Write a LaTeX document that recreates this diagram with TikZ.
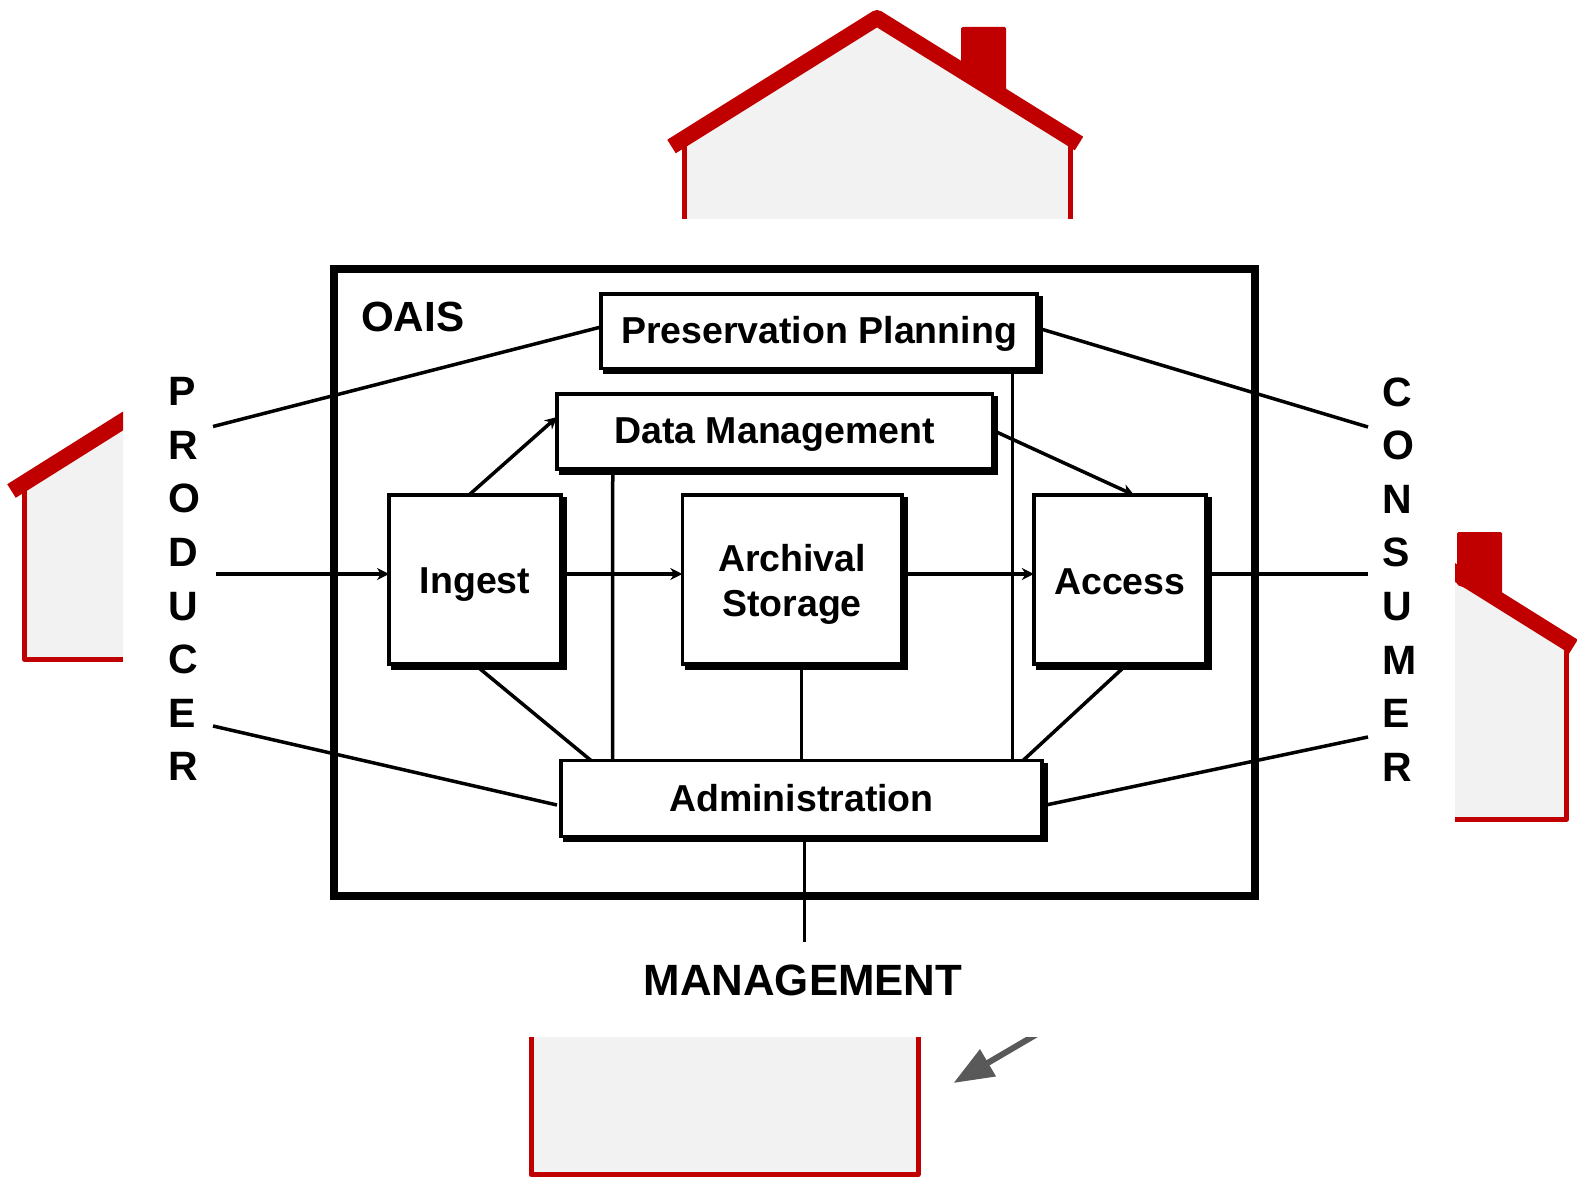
\documentclass[tikz,border=0pt]{standalone}
\usepackage{fontspec}
\setmainfont{Liberation Sans}
\usetikzlibrary{arrows.meta,shadows}
\definecolor{houseRed}{HTML}{C00000}
\definecolor{houseFill}{HTML}{F2F2F2}
\definecolor{arrowGrey}{HTML}{595959}
\tikzset{
  procbox/.style={draw=black,fill=white,line width=3.5pt,inner sep=0pt,outer sep=0pt,align=center,
    font=\fontsize{37.5}{44.5}\selectfont\bfseries,
    copy shadow={shadow xshift=4pt,shadow yshift=-4pt,draw=black,fill=black}},
  conn/.style={draw=black,line width=3.5pt},
  flow/.style={conn,-{Stealth[length=12pt,width=12pt]}},
  roof/.style={draw=houseRed,line width=16pt,line join=round},
  wall/.style={draw=houseRed,line width=5pt},
  chimney/.style={fill=houseRed,rounded corners=1.5pt},
  housebody/.style={fill=houseFill},
  letters/.style={inner sep=0pt,outer sep=0pt,align=left,font=\fontsize{41}{53.6}\selectfont\bfseries},
  oaistext/.style={inner sep=0pt,outer sep=0pt,font=\fontsize{42.2}{50}\selectfont\bfseries},
  mgmttext/.style={inner sep=0pt,outer sep=0pt,font=\fontsize{43.8}{50}\selectfont\bfseries}
}
\begin{document}
\begin{tikzpicture}[x=1pt,y=-1pt]
\useasboundingbox (0,0) rectangle (1577,1182);
% top house
\fill[housebody] (684.5,143) -- (877,27) -- (1070.5,143) -- (1070.5,219) -- (684.5,219) -- cycle;
\draw[wall] (684.5,145) -- (684.5,219);
\draw[wall] (1070.5,145) -- (1070.5,219);
\fill[chimney] (961,70) -- (961,27) -- (1006,27) -- (1006,100) -- cycle;
\draw[roof] (671.5,146.5) -- (877,18) -- (1079,143.5);
% left house
\fill[housebody] (24.5,490) -- (123,430) -- (123,659.5) -- (24.5,659.5) -- cycle;
\draw[wall,line join=round] (24.5,490) -- (24.5,659.5) -- (123,659.5);
\begin{scope}
\clip (0,380) rectangle (123,520);
\draw[roof] (11.5,491) -- (140,410.3);
\end{scope}
% right house
\fill[housebody] (1455,582) -- (1566.5,650) -- (1566.5,819.5) -- (1455,819.5) -- cycle;
\draw[wall,line join=round] (1566.5,650) -- (1566.5,819.5) -- (1455,819.5);
\fill[chimney] (1457,585) -- (1457,532) -- (1502,532) -- (1502,600) -- cycle;
\begin{scope}
\clip (1455,540) rectangle (1577,670);
\draw[roof] (1435,560) -- (1573.5,646.5);
\end{scope}
% bottom house
\fill[housebody] (531,1037) rectangle (918,1174.5);
\draw[wall,line join=round] (531,1037) -- (531,1174.5) -- (918,1174.5) -- (918,1037);
% grey arrow
\coordinate (arrowTail) at (1045.6,1029);
\coordinate (arrowTip) at (953.5,1083);
\begin{scope}
\clip (930,1037) rectangle (1060,1100);
\draw[arrowGrey,line width=6pt,-{Triangle[length=40pt,width=30pt]}] (arrowTail) -- (arrowTip);
\end{scope}
% OAIS frame
\node[draw=black,line width=8pt,minimum width=921pt,minimum height=627pt,inner sep=0pt,outer sep=0pt] (oais) at (794.5,582.5) {};
\node[oaistext,anchor=base west] (oaislabel) at (361,331) {OAIS};
% process boxes
\node[procbox,minimum width=436pt,minimum height=74.5pt,text height=33pt] (pp) at (819,331.25) {Preservation Planning};
\node[procbox,minimum width=435.5pt,minimum height=75pt,text height=31pt] (dm) at (774.75,431.5) {Data Management};
\node[procbox,minimum width=172pt,minimum height=169pt,text height=36pt] (ingest) at (475,579.5) {Ingest};
\node[procbox,minimum width=219.5pt,minimum height=169pt,text height=81pt] (archive) at (792,579.5) {Archival\\Storage};
\node[procbox,minimum width=172pt,minimum height=169pt,text height=30pt] (access) at (1119.75,579.5) {Access};
\node[procbox,minimum width=481pt,minimum height=76pt] (admin) at (801.5,798.5) {Administration};
% outside labels
\node[letters,anchor=north west] (producer) at (168.5,377.5) {P\\R\\O\\D\\U\\C\\E\\R};
\node[letters,anchor=north west] (consumer) at (1382,377.5) {C\\O\\N\\S\\U\\M\\E\\R};
\node[mgmttext,anchor=base] (management) at (803,995) {MANAGEMENT};
% free ends of connectors
\coordinate (prodTop) at (213,426.5);
\coordinate (prodMid) at (216,574);
\coordinate (prodBot) at (213,726);
\coordinate (consTop) at (1368,427);
\coordinate (consMid) at (1368,574);
\coordinate (consBot) at (1368,737);
\coordinate (mgmtEnd) at (804.5,942);
% connectors
\draw[conn] (prodTop) -- ([yshift=4.25pt]pp.west);
\draw[conn] ([xshift=4pt,yshift=2.25pt]pp.east) -- (consTop);
\draw[flow] (prodMid) -- ([yshift=5.5pt]ingest.west);
\draw[flow] ([xshift=4pt,yshift=5.5pt]ingest.east) -- ([yshift=5.5pt]archive.west);
\draw[flow] ([xshift=4pt,yshift=5.5pt]archive.east) -- ([yshift=5.5pt]access.west);
\draw[conn] ([xshift=4pt,yshift=5.5pt]access.east) -- (consMid);
\draw[flow] ([xshift=-6pt]ingest.north) -- ([yshift=14.5pt]dm.west);
\draw[flow] ([xshift=4pt,yshift=-0.5pt]dm.east) -- ([xshift=14.25pt]access.north);
\draw[conn] ([xshift=-162pt,yshift=-4pt]dm.south) -- ([xshift=-189pt]admin.north);
\draw[conn] ([xshift=193.5pt,yshift=-4pt]pp.south) -- ([xshift=211pt]admin.north);
\draw[conn] ([xshift=4pt,yshift=-4pt]ingest.south) -- ([xshift=-210.5pt]admin.north);
\draw[conn] ([yshift=-4pt,xshift=9.5pt]archive.south) -- (admin.north);
\draw[conn] ([xshift=3.25pt,yshift=-4pt]access.south) -- ([xshift=221.5pt]admin.north);
\draw[conn] (prodBot) -- ([xshift=-4pt,yshift=-6.5pt]admin.west);
\draw[conn] ([xshift=4pt,yshift=-6.5pt]admin.east) -- (consBot);
\draw[conn] ([xshift=3pt,yshift=-4pt]admin.south) -- (mgmtEnd);
\end{tikzpicture}
\end{document}
